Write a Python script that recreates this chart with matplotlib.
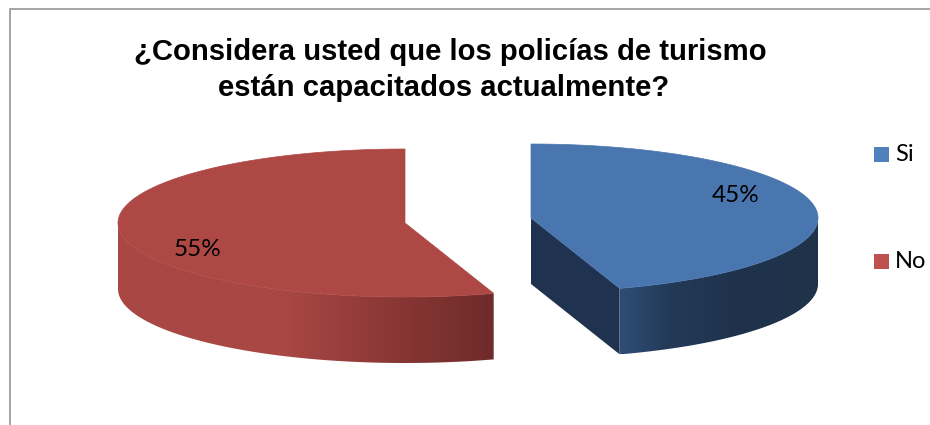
import numpy as np
import matplotlib
matplotlib.use("Agg")
import matplotlib.pyplot as plt
from matplotlib.colors import LinearSegmentedColormap
from matplotlib.patches import Polygon, Rectangle


categorias = ["Si", "No"]
porcentajes = [45, 55]
titulo = ["¿Considera usted que los policías de turismo",
          "están capacitados actualmente?"]

color_si = "#4A76AF"
color_no = "#AE4844"
leyenda_si = "#4F81BD"
leyenda_no = "#C0504D"
corte_si = "#1F3350"

ANCHO, ALTO = 930, 425
RX, RY = 287, 74
GROSOR = 66


def arco(cx, cy, ini, fin, n=200):
    # angulos en grados, horario desde las 12
    t = np.radians(np.linspace(ini, fin, n))
    return np.column_stack([cx + RX * np.sin(t), cy - RY * np.cos(t)])


def pared(ax, cx, cy, ini, fin, colores):
    # pared exterior con degradado horizontal recortado a la forma del arco
    sup = arco(cx, cy, ini, fin)
    puntos = np.vstack([sup, sup[::-1] + [0, GROSOR]])
    forma = Polygon(puntos, closed=True, transform=ax.transData,
                    facecolor="none", edgecolor="none")
    ax.add_patch(forma)
    x0, x1 = puntos[:, 0].min(), puntos[:, 0].max()
    y0, y1 = puntos[:, 1].min(), puntos[:, 1].max()
    cmap = LinearSegmentedColormap.from_list("pared", colores)
    im = ax.imshow(np.linspace(0, 1, 256).reshape(1, -1), cmap=cmap, aspect="auto",
                   extent=(x0, x1, y1, y0), zorder=2, interpolation="bilinear")
    im.set_clip_path(forma)


def main():

    plt.rcParams["font.family"] = ["Lato", "DejaVu Sans"]

    fig = plt.figure(figsize=(ANCHO / 100, ALTO / 100), dpi=100)
    ax = fig.add_axes([0, 0, 1, 1])

    fin_si = 360 * porcentajes[0] / sum(porcentajes)

    # porcion Si, desplazada a la derecha
    cx, cy = 531, 218
    tope = arco(cx, cy, 0, fin_si)
    punta = tope[-1]
    ax.add_patch(Polygon([(cx, cy), punta, punta + [0, GROSOR], (cx, cy + GROSOR)],
                         closed=True, facecolor=corte_si, edgecolor="none", zorder=2))
    pared(ax, cx, cy, 90, fin_si,
          [(0.0, "#2F4D75"), (0.25, "#233A58"), (0.55, "#1F334E"), (1.0, "#1E3249")])
    ax.add_patch(Polygon(np.vstack([[(cx, cy)], tope]), closed=True,
                         facecolor=color_si, edgecolor=color_si, lw=0.5, zorder=3))

    # porcion No, desplazada a la izquierda
    cx, cy = 405, 223
    tope = arco(cx, cy, fin_si, 360)
    pared(ax, cx, cy, fin_si, 270,
          [(0.0, "#A84744"), (0.45, "#A84744"), (0.72, "#8B3836"), (1.0, "#6E2B2A")])
    ax.add_patch(Polygon(np.vstack([[(cx, cy)], tope]), closed=True,
                         facecolor=color_no, edgecolor=color_no, lw=0.5, zorder=3))

    # etiquetas de porcentaje
    ax.text(736, 195, f"{porcentajes[0]}%", fontsize=17.5, ha="center", va="center", color="black", zorder=4)
    ax.text(198, 249, f"{porcentajes[1]}%", fontsize=17.5, ha="center", va="center", color="black", zorder=4)

    # titulo en dos lineas
    ax.text(450, 60, titulo[0], family="Liberation Sans", fontweight="bold", fontsize=21.1,
            ha="center", va="baseline", color="black")
    ax.text(443.5, 96, titulo[1], family="Liberation Sans", fontweight="bold", fontsize=21.1,
            ha="center", va="baseline", color="black")

    # leyenda
    for nombre, color, y in zip(categorias, [leyenda_si, leyenda_no], [147, 254]):
        ax.add_patch(Rectangle((874, y), 15, 15, facecolor=color, edgecolor="none"))
        ax.text(895, y + 7.5, nombre, fontsize=17, ha="left", va="center", color="black")

    # marco: solo borde superior e izquierdo
    ax.plot([10, 10, ANCHO], [ALTO, 9, 9], color="#8C8C8C", lw=1.1, solid_joinstyle="miter")

    ax.set_xlim(0, ANCHO)
    ax.set_ylim(ALTO, 0)
    ax.axis("off")

    fig.savefig("out.png", dpi=100)
    plt.close(fig)


if __name__ == "__main__":
    main()
